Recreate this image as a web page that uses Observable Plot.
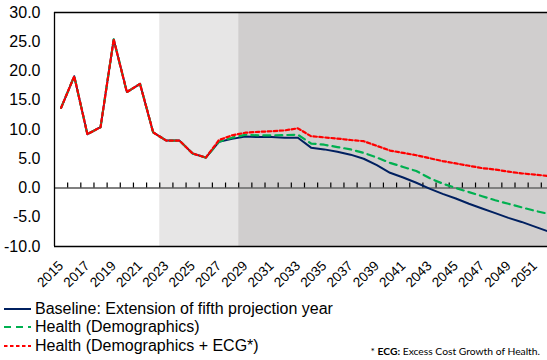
<!DOCTYPE html>
<html>
<head>
<meta charset="utf-8">
<script src="https://cdn.jsdelivr.net/npm/d3@7"></script>
<script src="https://cdn.jsdelivr.net/npm/@observablehq/plot@0.6"></script>
<style>
  html, body { margin: 0; padding: 0; background: #fff; overflow: hidden; }
  #wrap { position: relative; width: 547px; height: 360px; font-family: "Liberation Sans", Arial, sans-serif; }
  #chart svg { display: block; overflow: visible; }
  .leg { position: absolute; left: 0; height: 18px; display: flex; align-items: center; font-size: 16px; color: #000; white-space: nowrap; }
  .leg svg { display: block; margin-right: 2px; }
  #note { position: absolute; right: 7px; top: 345px; font-family: Lato, "Open Sans", sans-serif; font-size: 10.3px; color: #000; white-space: nowrap; }
</style>
</head>
<body>
<div id="wrap">
  <div id="chart"></div>
  <div id="legend"></div>
  <div id="note">* <b>ECG:</b> Excess Cost Growth of Health.</div>
</div>
<script>
const years = d3.range(2015, 2053);
const baseline = [13.7, 19.1, 9.2, 10.4, 25.4, 16.4, 17.8, 9.5, 8.1, 8.1, 5.9, 5.2, 7.9, 8.4, 8.8, 8.7, 8.7, 8.6, 8.6, 6.9, 6.6, 6.2, 5.7, 5.0, 3.9, 2.6, 1.8, 0.9, -0.1, -1.0, -1.8, -2.7, -3.5, -4.3, -5.1, -5.8, -6.6, -7.4];
const healthDemo = [13.7, 19.1, 9.2, 10.4, 25.4, 16.4, 17.8, 9.5, 8.1, 8.1, 5.9, 5.2, 7.9, 8.6, 9.1, 9.0, 9.0, 9.05, 9.1, 7.6, 7.4, 7.0, 6.6, 6.0, 5.2, 4.3, 3.6, 2.9, 1.7, 0.75, 0.0, -0.7, -1.4, -2.1, -2.7, -3.3, -3.9, -4.4];
const healthEcg = [13.7, 19.1, 9.2, 10.4, 25.4, 16.4, 17.8, 9.5, 8.1, 8.1, 5.9, 5.2, 8.2, 9.0, 9.45, 9.6, 9.7, 9.85, 10.2, 8.85, 8.65, 8.45, 8.2, 8.0, 7.2, 6.4, 6.0, 5.6, 5.1, 4.6, 4.2, 3.8, 3.4, 3.15, 2.8, 2.5, 2.3, 2.05];
const seriesNames = ["Baseline: Extension of fifth projection year", "Health (Demographics)", "Health (Demographics + ECG*)"];
const seriesColors = ["#002060", "#00b050", "#ff0000"];
const seriesDash = [null, "7,5", "3.5,2.5"];
const xTickYears = d3.range(2015, 2052, 2);
const yTicks = [-10, -5, 0, 5, 10, 15, 20, 25, 30];
const shading = [
  {from: 2022.5, to: 2028.5, color: "#e7e6e6"},
  {from: 2028.5, to: 2053, color: "#d0cece"}
];
const boundaries = d3.range(2015.5, 2052, 1);

const rows = years.map((y, i) => ({year: y, baseline: baseline[i], demo: healthDemo[i], ecg: healthEcg[i]}));

const chart = Plot.plot({
  width: 547,
  height: 300,
  marginLeft: 54,
  marginRight: 0,
  marginTop: 12,
  marginBottom: 54,
  style: {fontFamily: '"Liberation Sans", Arial, sans-serif', fontSize: "16px", color: "#000", background: "transparent", overflow: "visible"},
  x: {domain: [2014.5, 2051.97]},
  y: {domain: [-10, 30]},
  marks: [
    Plot.rect(shading, {x1: "from", x2: "to", y1: -10, y2: 30, fill: "color", clip: true}),
    Plot.ruleY([0], {stroke: "#808080", strokeWidth: 2}),
    Plot.ruleX(boundaries, {y1: 0, y2: 0.85, stroke: "#000", strokeWidth: 1.2}),
    Plot.line(rows, {x: "year", y: "baseline", stroke: seriesColors[0], strokeWidth: 2, clip: true}),
    Plot.line(rows, {x: "year", y: "demo", stroke: seriesColors[1], strokeWidth: 2.2, strokeDasharray: seriesDash[1], clip: true}),
    Plot.line(rows, {x: "year", y: "ecg", stroke: seriesColors[2], strokeWidth: 2.2, strokeDasharray: seriesDash[2], clip: true}),
    Plot.ruleX([2014.5], {stroke: "#000", strokeWidth: 1.3}),
    Plot.ruleY([30, -10], {stroke: "#000", strokeWidth: 1.3}),
    Plot.axisY(yTicks, {tickSize: 0, tickPadding: 14, tickFormat: d => d.toFixed(1), fontSize: 16, label: null}),
    Plot.axisX(xTickYears, {tickSize: 0, tickPadding: 17, tickRotate: -45, tickFormat: d => String(d), fontSize: 13.6, label: null})
  ]
});
document.getElementById("chart").appendChild(chart);

const legend = document.getElementById("legend");
const legTops = [300, 318, 337];
seriesNames.forEach((name, i) => {
  const row = document.createElement("div");
  row.className = "leg";
  row.style.top = legTops[i] + "px";
  const svg = d3.create("svg").attr("width", 33).attr("height", 18);
  svg.append("line").attr("x1", 4).attr("x2", 31).attr("y1", 9).attr("y2", 9)
    .attr("stroke", seriesColors[i]).attr("stroke-width", 2)
    .attr("stroke-dasharray", seriesDash[i]);
  row.appendChild(svg.node());
  const span = document.createElement("span");
  span.textContent = name;
  row.appendChild(span);
  legend.appendChild(row);
});
</script>
</body>
</html>
